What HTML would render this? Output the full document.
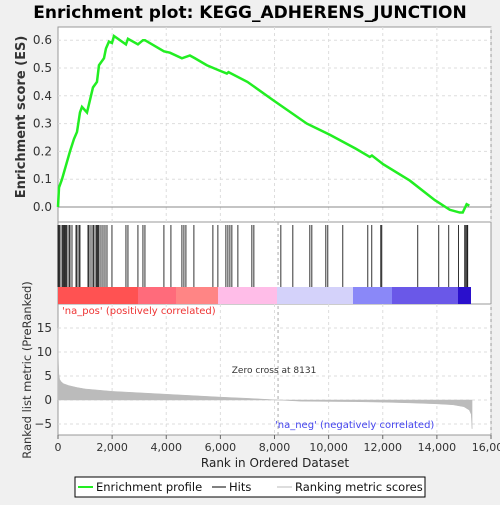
<!DOCTYPE html>
<html><head><meta charset="utf-8"><style>
body{margin:0;background:#f0f0f0;font-family:"Liberation Sans","DejaVu Sans",sans-serif}
svg text{font-family:"DejaVu Sans","Liberation Sans",sans-serif}
</style></head><body>
<svg id="c" width="500" height="500" xmlns="http://www.w3.org/2000/svg"></svg>
<script>
const esRanks=[0,37,148,295,443,591,702,812,886,1071,1182,1292,1440,1514,1699,1772,1883,1994,2068,2511,2585,2954,3139,3213,3914,4136,4579,4874,5059,5500,5982,6240,6300,7000,7940,9195,10044,11000,11521,11600,12000,13000,13922,14476,14845,14955,15100,15200];
const esValues=[0,0.07,0.1,0.15,0.2,0.245,0.27,0.34,0.36,0.34,0.385,0.43,0.45,0.51,0.535,0.57,0.595,0.59,0.615,0.585,0.605,0.585,0.6,0.6,0.56,0.555,0.535,0.545,0.535,0.51,0.49,0.48,0.485,0.45,0.385,0.30,0.26,0.21,0.18,0.185,0.155,0.095,0.025,-0.01,-0.02,-0.02,0.01,0.005];
const hitRanks=[0,37,74,148,185,222,258,295,332,406,443,517,665,702,775,812,1108,1145,1219,1292,1329,1403,1440,1477,1514,1588,1662,1736,1810,1994,2511,2585,2954,3139,3213,3914,4173,4579,4653,4727,5022,5724,5908,6204,6278,6352,6425,6647,7164,7238,8235,8678,9306,9380,9897,9970,10524,11448,11595,11928,11965,13294,14070,14439,14800,15030,15070,15110,15140];
const metricRanks=[0,10,30,60,120,200,400,700,1000,2000,3000,4000,5000,6000,7000,8131,9000,10000,11000,12000,13000,14000,14600,15000,15200,15270,15300];
const metricValues=[15,9,5.5,4.3,3.8,3.4,3,2.6,2.3,1.8,1.5,1.2,0.9,0.6,0.35,0,-0.25,-0.3,-0.35,-0.45,-0.6,-0.8,-1,-1.4,-2.1,-3,-6];
const xTicks=[0,2000,4000,6000,8000,10000,12000,14000,16000];
const esTicks=[0,0.1,0.2,0.3,0.4,0.5,0.6];
const mTicks=[-5,0,5,10,15];
const NS="http://www.w3.org/2000/svg",S=document.getElementById('c');
const L=58,R=491;
const X=r=>L+r*(R-L)/16000;
const Yes=v=>207-v*278;
const Ym=v=>400-v*4.8;
function el(t,a,p){const e=document.createElementNS(NS,t);for(const k in a)e.setAttribute(k,a[k]);(p||S).appendChild(e);return e;}
function tx(x,y,s,a,p){const e=el('text',Object.assign({x:x,y:y},a),p);e.textContent=s;return e;}
const p1=el('rect',{x:L,y:27,width:R-L,height:195,fill:'#fff',stroke:'#999'});


const p2=el('rect',{x:L,y:222,width:R-L,height:82,fill:'#fff',stroke:'#999'});


const p3=el('rect',{x:L,y:304,width:R-L,height:131,fill:'#fff',stroke:'#999'});


xTicks.forEach(t=>{if(t>0){el('line',{x1:X(t),x2:X(t),y1:27,y2:222,stroke:'#ddd','stroke-dasharray':'3,3'});el('line',{x1:X(t),x2:X(t),y1:304,y2:435,stroke:'#ddd','stroke-dasharray':'3,3'});}
el('line',{x1:X(t),x2:X(t),y1:435,y2:439,stroke:'#666'});
const t1=tx(X(t),451,t.toLocaleString('en-US'),{'font-size':11,'text-anchor':'middle',fill:'#333'});

});
esTicks.forEach(t=>{if(t>0)el('line',{x1:L,x2:R,y1:Yes(t),y2:Yes(t),stroke:'#ddd','stroke-dasharray':'3,3'});
const t1=tx(52,Yes(t)+4,t.toFixed(1),{'font-size':12,'text-anchor':'end',fill:'#333'});

});
el('line',{x1:L,x2:R,y1:207,y2:207,stroke:'#888'});
mTicks.forEach(t=>{el('line',{x1:L,x2:R,y1:Ym(t),y2:Ym(t),stroke:'#ddd','stroke-dasharray':'3,3'});
const t1=tx(52,Ym(t)+4,t<0?'\u22125':String(t),{'font-size':12,'text-anchor':'end',fill:'#333'});

});
let d='M'+X(0)+','+Ym(0);
metricRanks.forEach((r,i)=>d+=' L'+X(r)+','+Ym(metricValues[i]));
d+=' L'+X(15300)+','+Ym(0)+'Z';
const ar=el('path',{d:d,fill:'#bbb',stroke:'#bbb','stroke-width':0.5});


el('line',{x1:X(8131),x2:X(8131),y1:222,y2:435,stroke:'#aaa','stroke-dasharray':'3,3'});
const zc=tx(X(8131)-4,373,'Zero cross at 8131',{'font-size':9,'text-anchor':'middle',fill:'#333'});


const np=tx(62,314,"'na_pos' (positively correlated)",{'font-size':10,fill:'#e33'});


const nn=tx(275,428,"'na_neg' (negatively correlated)",{'font-size':10,fill:'#44e'});


const segs=[[58,138,'#ff5252'],[138,176,'#ff6b7b'],[176,218,'#ff8585'],[218,277,'#ffbde8'],[277,353,'#d4d2fa'],[353,392,'#8a88f8'],[392,458,'#6a58e8'],[458,471,'#2a10cc']];
segs.forEach(s=>el('rect',{x:s[0],y:287,width:s[1]-s[0],height:17,fill:s[2]}));
hitRanks.forEach(r=>{const h=el('line',{x1:X(r),x2:X(r),y1:225,y2:287,stroke:'#000','stroke-width':0.8});

});
const pts=esRanks.map((r,i)=>X(r)+','+Yes(esValues[i])).join(' ');
const pl=el('polyline',{points:pts,fill:'none',stroke:'#22ee22','stroke-width':2.5});


const ti=tx(250,18,'Enrichment plot: KEGG_ADHERENS_JUNCTION',{'font-size':17,'font-weight':'bold','text-anchor':'middle',fill:'#000'});


const yt=tx(0,0,'Enrichment score (ES)',{'font-size':13,'font-weight':'bold','text-anchor':'middle',fill:'#333',transform:'translate(25,117) rotate(-90)'});


const yt2=tx(0,0,'Ranked list metric (PreRanked)',{'font-size':11.5,'text-anchor':'middle',fill:'#333',transform:'translate(31,370) rotate(-90)'});


const xt=tx(275,467,'Rank in Ordered Dataset',{'font-size':12,'text-anchor':'middle',fill:'#222'});


const lg=el('g',{});


el('rect',{x:75,y:477,width:350,height:20,fill:'#fff',stroke:'#000'},lg);
el('line',{x1:78,x2:93,y1:487,y2:487,stroke:'#22ee22','stroke-width':2},lg);
tx(96,491,'Enrichment profile',{'font-size':11.5,fill:'#111'},lg);
el('line',{x1:212,x2:226,y1:487,y2:487,stroke:'#000'},lg);
tx(229,491,'Hits',{'font-size':11.5,fill:'#111'},lg);
el('line',{x1:277,x2:292,y1:487,y2:487,stroke:'#bbb'},lg);
tx(295,491,'Ranking metric scores',{'font-size':11.5,fill:'#111'},lg);
</script>
</body></html>
